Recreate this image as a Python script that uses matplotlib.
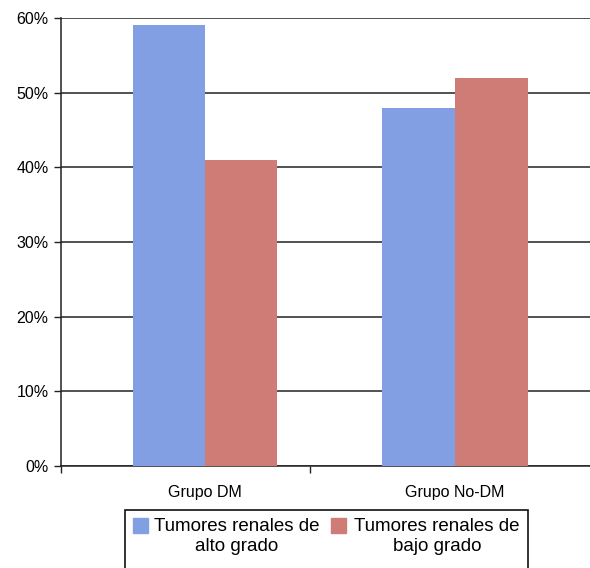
import numpy as np
import matplotlib.pyplot as plt
from matplotlib.patches import Rectangle
from matplotlib.ticker import PercentFormatter

# datos
grupos = ['Grupo DM', 'Grupo No-DM']
alto_grado = [0.59, 0.48]
bajo_grado = [0.41, 0.52]
series_labels = ['Tumores renales de\nalto grado', 'Tumores renales de\nbajo grado']
colores = ['#829fe3', '#cf7c77']

plt.rcParams['font.family'] = ['Liberation Sans', 'DejaVu Sans']

W, H = 590, 568
fig = plt.figure(figsize=(W / 100, H / 100), dpi=100)

def fx(px):
    return px / W

def fy(py):
    return 1 - py / H

# ejes: 0% en y=466, 60% en y=18, eje izquierdo en x=61
ax = fig.add_axes([fx(61), fy(466), 1 - fx(61), fy(18) - fy(466)])

x = np.arange(len(grupos))
w = 0.29
ax.bar(x - w / 2, alto_grado, width=w, color=colores[0], zorder=3)
ax.bar(x + w / 2, bajo_grado, width=w, color=colores[1], zorder=3)

ax.set_xlim(-0.576, 1.54)
ax.set_ylim(0, 0.6)
ax.set_yticks(np.arange(0, 0.61, 0.1))
ax.yaxis.set_major_formatter(PercentFormatter(1.0, decimals=0))
ax.yaxis.grid(True, color='#222222', linewidth=1.1, zorder=1)

# marcas de separación en el eje x, etiquetas en el centro de cada grupo
ax.set_xticks([-0.576, 0.42])
ax.set_xticklabels([])
ax.set_xticks(x, minor=True)
ax.set_xticklabels(grupos, minor=True)
ax.tick_params(axis='x', which='major', length=5, width=1, color='#222222')
ax.tick_params(axis='x', which='minor', length=0, pad=13.5, labelsize=11.5)
ax.tick_params(axis='y', length=5, width=1, color='#222222', pad=4, labelsize=11.5)

for s in ['top', 'right']:
    ax.spines[s].set_visible(False)
for s in ['left', 'bottom']:
    ax.spines[s].set_color('#222222')
    ax.spines[s].set_linewidth(1.1)

# leyenda manual (el recuadro sale por debajo de la figura)
frame = Rectangle((fx(125), fy(590)), fx(528) - fx(125), fy(510) - fy(590),
                  transform=fig.transFigure, fill=False, edgecolor='#111111',
                  linewidth=1.2, clip_on=False)
fig.patches.append(frame)

sq_x = [133, 331]
txt_x = [237, 437]
for i in range(2):
    fig.patches.append(Rectangle((fx(sq_x[i]), fy(533)), fx(15), fy(518) - fy(533),
                                 transform=fig.transFigure, color=colores[i]))
    fig.text(fx(txt_x[i]), fy(518), series_labels[i], ha='center', va='top',
             multialignment='center', fontsize=13.5, linespacing=1.2)

fig.savefig('out.png', dpi=100)
